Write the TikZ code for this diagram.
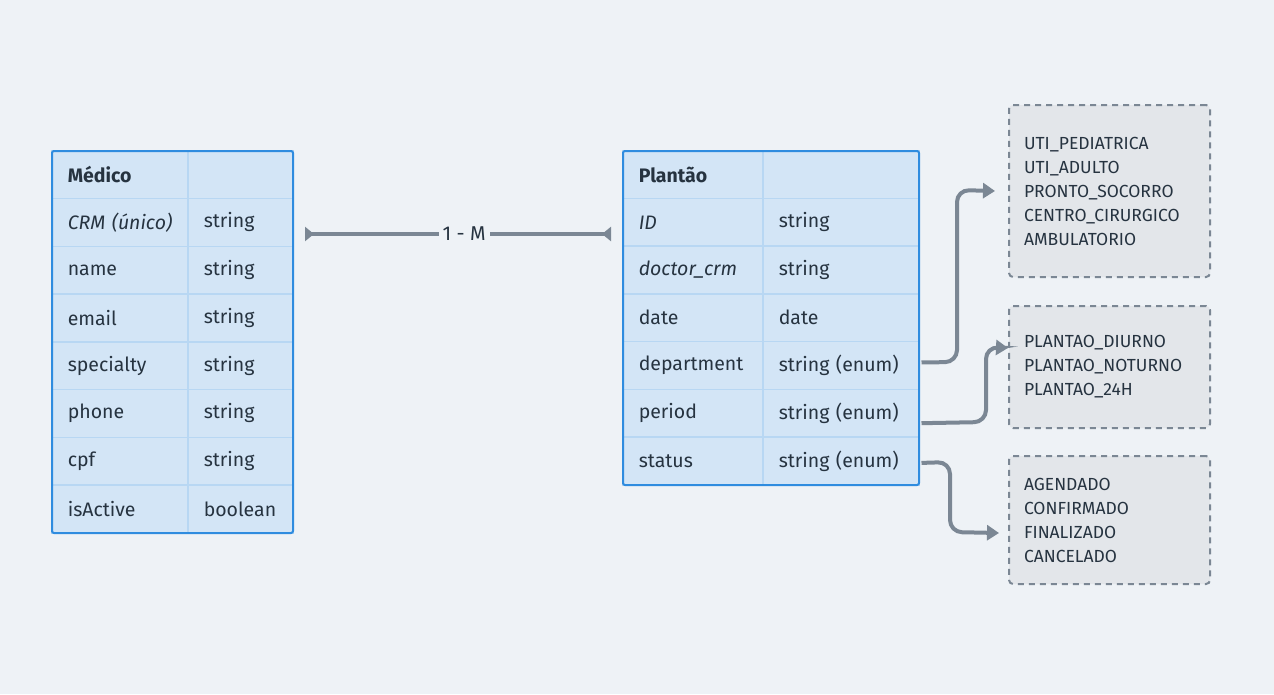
\documentclass[tikz,border=0pt]{standalone}
\usepackage{fontspec}
\setmainfont{Fira Sans}
\usetikzlibrary{arrows.meta}
\definecolor{bg}{HTML}{EEF2F6}
\definecolor{cellfill}{HTML}{D3E5F6}
\definecolor{cellline}{HTML}{B8D7F3}
\definecolor{tblborder}{HTML}{2F8CDF}
\definecolor{conncol}{HTML}{7B8794}
\definecolor{txt}{HTML}{263340}
\definecolor{enumfill}{HTML}{E3E6EA}
\begin{document}
\begin{tikzpicture}[x=1pt,y=-1pt,
  cell/.style={draw=cellline, line width=1.5pt, fill=cellfill, anchor=north west,
    minimum height=47.75pt, inner xsep=16pt, inner ysep=0pt, align=left, text=txt,
    font=\fontsize{19.5}{24}\selectfont},
  tablebox/.style={draw=tblborder, line width=2pt, rounded corners=2pt, anchor=north west, inner sep=0pt},
  conn/.style={draw=conncol, line width=4pt},
  flow/.style={draw=conncol, line width=4pt, rounded corners=12pt, -{Triangle[length=12pt,width=15pt]}},
  enumbox/.style={draw=conncol, line width=2pt, dash pattern=on 6pt off 5pt, fill=enumfill,
    rounded corners=4pt, anchor=north west, minimum width=201pt, inner xsep=15pt,
    text width=171pt, align=left, text=txt, font=\fontsize{17.5}{24}\selectfont},
  lbl/.style={fill=bg, inner xsep=4pt, inner ysep=2pt, text=txt, font=\fontsize{20}{24}\selectfont}
]
\fill[bg] (0,0) rectangle (1274,694);
\useasboundingbox (0,0) rectangle (1274,694);

% Medico table
\foreach [count=\i from 0] \a/\b in {{\textbf{Médico}}/{},{\textit{CRM (único)}}/string,name/string,email/string,specialty/string,phone/string,cpf/string,isActive/boolean}{
  \node[cell, text width=104pt] (ml\i) at (51,{150+\i*47.75}) {\mbox{\a}};
  \node[cell, text width=73pt] (mr\i) at (187,{150+\i*47.75}) {\mbox{\b}};
}
\node[tablebox, minimum width=241pt, minimum height=382pt] (medico) at (51,150) {};

% Plantao table
\foreach [count=\i from 0] \a/\b in {{\textbf{Plantão}}/{},{\textit{ID}}/string,{\textit{doctor\_crm}}/string,date/date,department/{string (enum)},period/{string (enum)},status/{string (enum)}}{
  \node[cell, text width=108pt] (pl\i) at (622,{150+\i*47.714}) {\mbox{\a}};
  \node[cell, text width=124pt] (pr\i) at (762,{150+\i*47.714}) {\mbox{\b}};
}
\node[tablebox, minimum width=296pt, minimum height=334pt] (plantao) at (622,150) {};

% relation
\draw[conn, {Triangle[reversed,length=9pt,width=14pt]}-{Triangle[reversed,length=9pt,width=14pt]}]
  ([shift={(11,-108)}]medico.east) -- node[lbl, pos=0.52] {1 - M} ([shift={(-11,-84)}]plantao.west);

% enum boxes
\node[enumbox, minimum height=172pt] (enum1) at (1008,104) {UTI\_PEDIATRICA\\UTI\_ADULTO\\PRONTO\_SOCORRO\\CENTRO\_CIRURGICO\\AMBULATORIO};
\node[enumbox, minimum height=122pt] (enum2) at (1008,305) {PLANTAO\_DIURNO\\PLANTAO\_NOTURNO\\PLANTAO\_24H};
\node[enumbox, minimum height=128pt] (enum3) at (1008,455) {AGENDADO\\CONFIRMADO\\FINALIZADO\\CANCELADO};

% enum arrows
\coordinate (s1) at ([shift={(2,-3)}]pr4.east);
\coordinate (s2) at ([shift={(2,10)}]pr5.east);
\coordinate (s3) at ([shift={(2,2)}]pr6.east);
\coordinate (e1) at ([xshift=-13pt]enum1.west);
\coordinate (e2) at ([yshift=19pt]enum2.west);
\coordinate (e3) at ([shift={(-9,13)}]enum3.west);
\draw[flow] (s1) -- (957,362) -- (957,190) -- (e1);
\draw[flow] (s2) -- (986,422) -- (986,347) -- (e2);
\draw[flow] (s3) -- (950,462) -- (950,532) -- (e3);
\end{tikzpicture}
\end{document}
